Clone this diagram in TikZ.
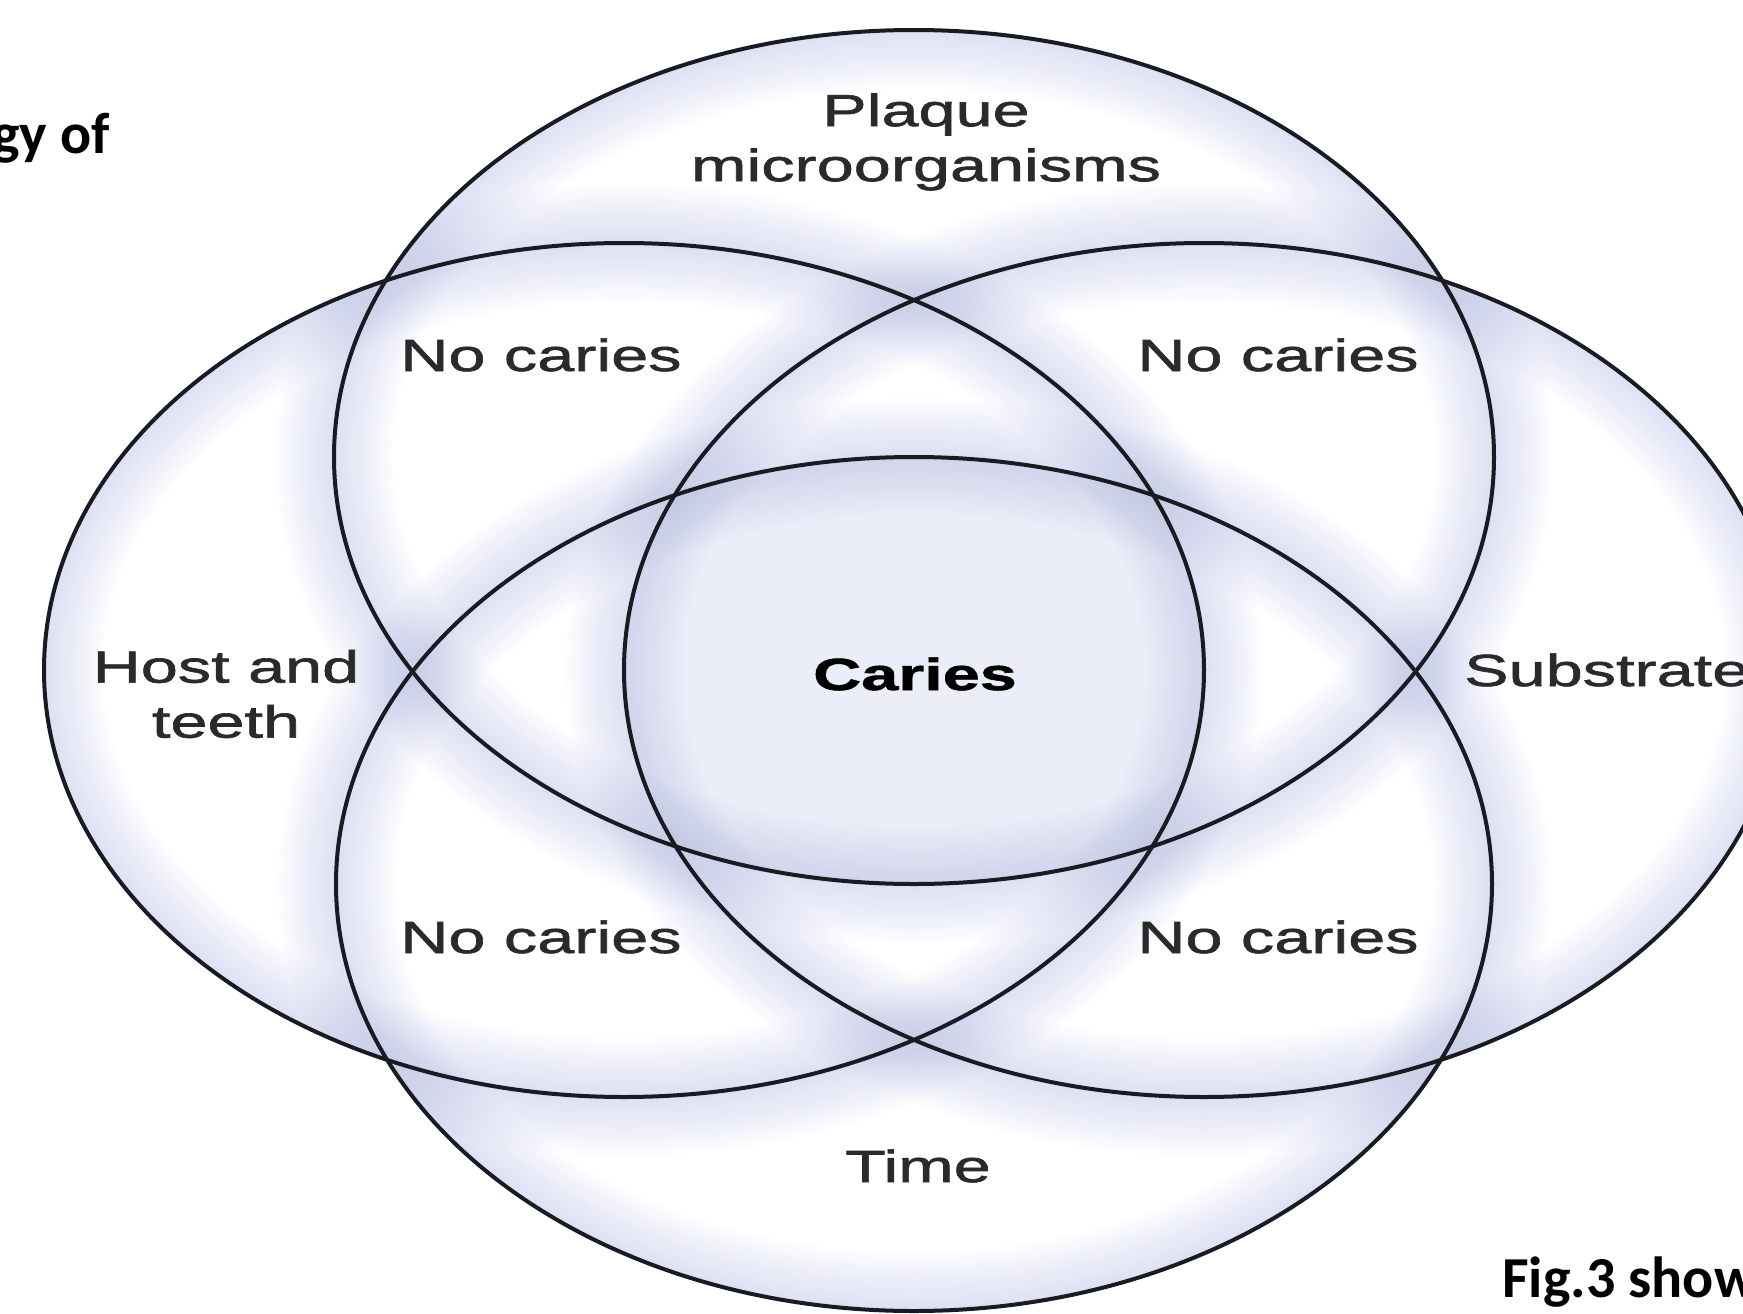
\documentclass[tikz,border=0pt]{standalone}
\usepackage{fontspec}
\newfontfamily\lblfont[FakeStretch=1.48,FakeBold=1.4]{Liberation Sans}
\newfontfamily\figfont{Carlito}
\definecolor{lav}{HTML}{B4BBE4}
\definecolor{ink}{HTML}{1A1A22}
\definecolor{txt}{HTML}{2A2A2A}
\begin{document}
\begin{tikzpicture}[x=1pt,y=-1pt,
  venn/.style={draw=ink, line width=4pt},
  glow/.style={draw=lav, opacity=0.036},
  lbl/.style={font=\lblfont\fontsize{45}{55}\selectfont, text=txt, inner sep=0pt, align=center},
  side/.style={font=\figfont\bfseries\fontsize{58}{70}\selectfont, text=black, inner sep=0pt}]
\def\pT{(914,457) ellipse [x radius=580pt, y radius=427pt]}
\def\pB{(914,884) ellipse [x radius=578pt, y radius=427pt]}
\def\pL{(624,670) ellipse [x radius=580pt, y radius=427pt]}
\def\pR{(1204,670) ellipse [x radius=580pt, y radius=427pt]}
\useasboundingbox (0,0) rectangle (1743,1314);
\fill[white] (0,0) rectangle (1743,1314);
\begin{scope}
  \clip (0,0) rectangle (1743,1314);
  % shading inside the union of the four sets
  \begin{scope}
    \clip \pT \pL \pR \pB;
    \begin{scope}
      \clip \pT; \clip \pL; \clip \pR; \clip \pB;
      \fill[lav, opacity=0.26] (0,0) rectangle (1743,1314);
    \end{scope}
    \foreach \w in {116,107,...,8} {
      \draw[glow, line width=\w pt] \pT;
      \draw[glow, line width=\w pt] \pL;
      \draw[glow, line width=\w pt] \pR;
      \draw[glow, line width=\w pt] \pB;
    }
  \end{scope}
  \draw[venn] \pT;
  \draw[venn] \pL;
  \draw[venn] \pR;
  \draw[venn] \pB;
  % labels
  \node[lbl] (plaque) at (926,142) {Plaque\\microorganisms};
  \node[lbl, anchor=base] (nc1) at (541,371) {No caries};
  \node[lbl, anchor=base] (nc2) at (1278,371) {No caries};
  \node[lbl, anchor=base] (nc3) at (541,953) {No caries};
  \node[lbl, anchor=base] (nc4) at (1278,953) {No caries};
  \node[lbl, anchor=base, font=\lblfont\bfseries\fontsize{45}{55}\selectfont, text=black] (caries) at (915,690) {Caries};
  \node[lbl] (host) at (226,694) {Host and\\teeth};
  \node[lbl, anchor=base west] (substrate) at (1464,686) {Substrate};
  \node[lbl, anchor=base] (time) at (918,1182) {Time};
  \node[side, anchor=base east] (captl) at (110,153) {gy of};
  \node[side, anchor=base west] (capbr) at (1502,1297) {Fig.3 show};
\end{scope}
\end{tikzpicture}
\end{document}
